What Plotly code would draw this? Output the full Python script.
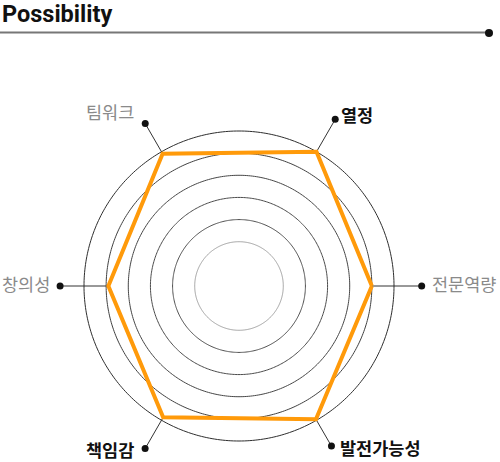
import numpy as np
import plotly.graph_objects as go

# ---- data ----
categories = ["전문역량", "열정", "팀워크", "창의성", "책임감", "발전가능성"]
values = [6.0, 7.0, 6.9, 5.9, 6.85, 6.95]
bold_labels = ["열정", "책임감", "발전가능성"]
ring_levels = [2, 3, 4, 5, 6, 7]
r_max = 7
title_text = "Possibility"

# ---- styling ----
ring_colors = ["#a0a0a0", "#505050", "#4a4a4a", "#464646", "#404040", "#2e2e2e"]
orange = "#FF9A0A"
leader_len = [8.25, 8.69, 8.47, 8.08, 8.48, 8.35]   # where each label dot sits
# (xanchor, xshift, yshift) of each label relative to its dot
label_place = {"전문역량": ("left", 9, 3), "열정": ("left", 5, 5), "팀워크": ("right", -10, 12),
               "창의성": ("right", -9, 3), "책임감": ("right", -10, -1),
               "발전가능성": ("left", 8, -1)}

W, H = 500, 462
cx, cy, R = 239, 286, 155   # px centre / px radius of r_max
k = r_max / R               # data units per px
pad = 1.03                  # small headroom so the outer ring is not clipped
Rp = R * pad

thetas = [i * 360 / len(categories) for i in range(len(categories))]

fig = go.Figure()

# rings
circ = np.linspace(0, 360, 361)
for lvl, col in zip(ring_levels, ring_colors):
    fig.add_trace(go.Scatterpolar(r=[lvl] * len(circ), theta=circ, mode="lines",
                                  line=dict(color=col, width=1), hoverinfo="skip",
                                  showlegend=False))

annots = []
# leader lines + dots + labels on an overlaid cartesian with the same scale
for cat, v, t, L in zip(categories, values, thetas, leader_len):
    a = np.deg2rad(t)
    xs = [v * np.cos(a), L * np.cos(a)]
    ys = [v * np.sin(a), L * np.sin(a)]
    fig.add_trace(go.Scatter(x=xs, y=ys, mode="lines", line=dict(color="#333333", width=1),
                             hoverinfo="skip", showlegend=False, cliponaxis=False))
    fig.add_trace(go.Scatter(x=[xs[1]], y=[ys[1]], mode="markers", cliponaxis=False,
                             marker=dict(color="#111111", size=7),
                             hoverinfo="skip", showlegend=False))
    is_bold = cat in bold_labels
    xa, xsh, ysh = label_place[cat]
    annots.append(dict(
        text="<b>" + cat + "</b>" if is_bold else cat, x=xs[1], y=ys[1], xref="x", yref="y",
        xanchor=xa, yanchor="middle", xshift=xsh, yshift=ysh, showarrow=False, borderpad=0,
        font=dict(family="Noto Sans CJK KR", size=17.5,
                  color="#111111" if is_bold else "#8a8a8a")))

# data polygon
fig.add_trace(go.Scatterpolar(r=values + values[:1], theta=thetas + thetas[:1], mode="lines",
                              line=dict(color=orange, width=4), cliponaxis=False,
                              hoverinfo="skip", showlegend=False))

annots.append(dict(text="<b>" + title_text + "</b>", x=0, y=1 - 14 / H, xref="paper", yref="paper",
                   xanchor="left", yanchor="middle", showarrow=False,
                   font=dict(family="Roboto", size=23.5, color="#111111")))

fig.update_layout(
    width=W, height=H, margin=dict(l=0, r=0, t=0, b=0),
    paper_bgcolor="white", plot_bgcolor="rgba(0,0,0,0)",
    polar=dict(
        domain=dict(x=[(cx - Rp) / W, (cx + Rp) / W], y=[1 - (cy + Rp) / H, 1 - (cy - Rp) / H]),
        bgcolor="rgba(0,0,0,0)",
        radialaxis=dict(range=[0, r_max * pad], visible=False),
        angularaxis=dict(visible=False, rotation=0, direction="counterclockwise"),
    ),
    xaxis=dict(range=[-cx * k, (W - cx) * k], visible=False, domain=[0, 1], fixedrange=True),
    yaxis=dict(range=[-(H - cy) * k, cy * k], visible=False, domain=[0, 1], fixedrange=True),
    annotations=annots,
    shapes=[
        dict(type="line", xref="paper", yref="paper", x0=0, x1=488 / W,
             y0=1 - 32.5 / H, y1=1 - 32.5 / H, line=dict(color="#777777", width=2)),
        dict(type="circle", xref="paper", yref="paper", x0=485 / W, x1=493 / W,
             y0=1 - 37 / H, y1=1 - 29 / H, fillcolor="#111111", line=dict(width=0)),
    ],
)

fig.write_html("out.html", config={"displayModeBar": False},
               post_script="document.body.style.margin='0';")
